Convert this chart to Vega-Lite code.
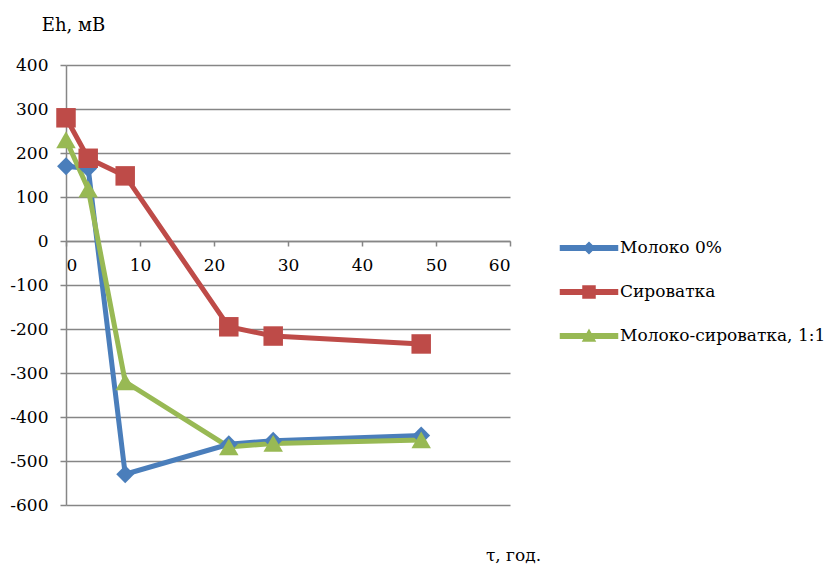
{
  "$schema": "https://vega.github.io/schema/vega-lite/v6.json",
  "width": 444,
  "height": 440,
  "autosize": {"type": "none"},
  "padding": {"left": 66, "top": 65, "right": 317, "bottom": 59},
  "background": "white",
  "config": {
    "view": {"stroke": null},
    "font": "DejaVu Serif",
    "axis": {"labelFont": "DejaVu Serif", "titleFont": "DejaVu Serif"},
    "legend": {"labelFont": "DejaVu Serif", "titleFont": "DejaVu Serif"}
  },
  "data": {
    "values": [
      {"series": "Молоко 0%", "t": 0, "eh": 170},
      {"series": "Молоко 0%", "t": 3, "eh": 165},
      {"series": "Молоко 0%", "t": 8, "eh": -530},
      {"series": "Молоко 0%", "t": 22, "eh": -462},
      {"series": "Молоко 0%", "t": 28, "eh": -454},
      {"series": "Молоко 0%", "t": 48, "eh": -442},
      {"series": "Сироватка", "t": 0, "eh": 280},
      {"series": "Сироватка", "t": 3, "eh": 188},
      {"series": "Сироватка", "t": 8, "eh": 148},
      {"series": "Сироватка", "t": 22, "eh": -195},
      {"series": "Сироватка", "t": 28, "eh": -216},
      {"series": "Сироватка", "t": 48, "eh": -234},
      {"series": "Молоко-сироватка, 1:1", "t": 0, "eh": 230},
      {"series": "Молоко-сироватка, 1:1", "t": 3, "eh": 118},
      {"series": "Молоко-сироватка, 1:1", "t": 8, "eh": -320},
      {"series": "Молоко-сироватка, 1:1", "t": 22, "eh": -468},
      {"series": "Молоко-сироватка, 1:1", "t": 28, "eh": -460},
      {"series": "Молоко-сироватка, 1:1", "t": 48, "eh": -452}
    ]
  },
  "layer": [
    {
      "mark": {"type": "line", "strokeWidth": 5},
      "encoding": {
        "x": {
          "field": "t", "type": "quantitative",
          "scale": {"domain": [0, 60], "nice": false},
          "axis": {
            "orient": "bottom", "offset": -264, "values": [0, 10, 20, 30, 40, 50, 60],
            "grid": false, "zindex": 0,
            "domainColor": "#868686", "domainWidth": 1.5,
            "tickColor": "#868686", "tickWidth": 1.5, "tickSize": 5,
            "labelFontSize": 17, "labelColor": "black", "labelPadding": 11,
            "title": "τ, год.", "titleFontSize": 17, "titleFontWeight": "normal",
            "titleColor": "black", "titleX": 447, "titleY": 319,
            "titleAlign": "center", "titleBaseline": "alphabetic", "titleAnchor": null
          }
        },
        "y": {
          "field": "eh", "type": "quantitative",
          "scale": {"domain": [-600, 400], "nice": false},
          "axis": {
            "values": [-600, -500, -400, -300, -200, -100, 0, 100, 200, 300, 400],
            "labelExpr": "'' + datum.value",
            "grid": true, "gridColor": "#868686", "gridWidth": 1.5,
            "domainColor": "#868686", "domainWidth": 1.5,
            "tickColor": "#868686", "tickWidth": 1.5, "tickSize": 6,
            "labelFontSize": 17, "labelColor": "black", "labelPadding": 12,
            "title": "Eh, мВ", "titleFontSize": 18, "titleFontWeight": "normal",
            "titleColor": "black", "titleAngle": 0, "titleX": 7, "titleY": -35,
            "titleAlign": "center", "titleBaseline": "alphabetic", "titleAnchor": null
          }
        },
        "color": {
          "field": "series", "type": "nominal",
          "scale": {
            "domain": ["Молоко 0%", "Сироватка", "Молоко-сироватка, 1:1"],
            "range": ["#4a7ebb", "#be4b48", "#98b954"]
          },
          "legend": {
            "orient": "none", "legendX": 512, "legendY": 172, "title": null,
            "labelFontSize": 17, "labelColor": "black", "labelOffset": 20, "labelLimit": 0,
            "symbolSize": 400, "rowPadding": 24,
            "encode": {
              "symbols": {
                "update": {
                  "shape": {"signal": "datum.value === 'Молоко 0%' ? 'M-2.85,-0.22H2.85V0.22H-2.85Z M0,-0.55L0.55,0L0,0.55L-0.55,0Z' : (datum.value === 'Сироватка' ? 'M-2.85,-0.22H2.85V0.22H-2.85Z M-0.6,-0.6H0.6V0.6H-0.6Z' : 'M-2.85,-0.22H2.85V0.22H-2.85Z M0,-0.6L0.6,0.5H-0.6Z')"},
                  "fill": {"scale": "color", "field": "value"},
                  "stroke": {"value": "transparent"},
                  "opacity": {"value": 1}
                }
              }
            }
          }
        },
        "order": {"field": "t"}
      }
    },
    {
      "transform": [{"filter": "datum.series === 'Молоко 0%'"}],
      "mark": {"type": "point", "filled": true, "opacity": 1, "shape": "diamond", "size": 320},
      "encoding": {
        "x": {"field": "t", "type": "quantitative"},
        "y": {"field": "eh", "type": "quantitative"},
        "color": {"field": "series", "type": "nominal"}
      }
    },
    {
      "transform": [{"filter": "datum.series === 'Сироватка'"}],
      "mark": {"type": "point", "filled": true, "opacity": 1, "shape": "square", "size": 380},
      "encoding": {
        "x": {"field": "t", "type": "quantitative"},
        "y": {"field": "eh", "type": "quantitative"},
        "color": {"field": "series", "type": "nominal"}
      }
    },
    {
      "transform": [{"filter": "datum.series === 'Молоко-сироватка, 1:1'"}],
      "mark": {"type": "point", "filled": true, "opacity": 1, "shape": "triangle-up", "size": 380},
      "encoding": {
        "x": {"field": "t", "type": "quantitative"},
        "y": {"field": "eh", "type": "quantitative"},
        "color": {"field": "series", "type": "nominal"}
      }
    }
  ]
}
